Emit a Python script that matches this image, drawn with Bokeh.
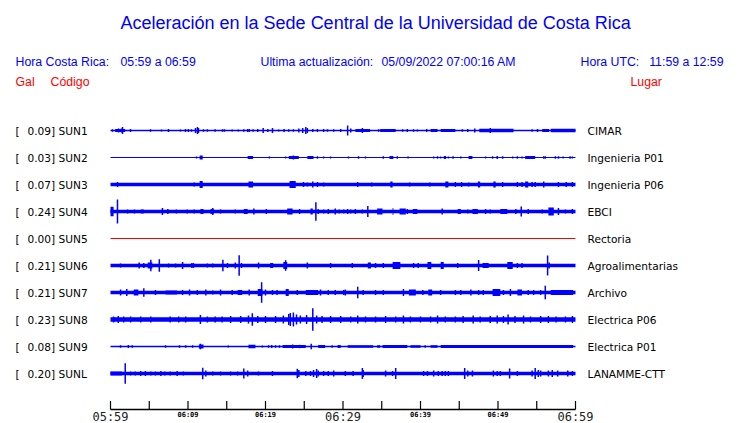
from bokeh.plotting import figure
from bokeh.models import Range1d
from bokeh.core.properties import value
from bokeh.embed import file_html
from bokeh.resources import INLINE

# ---------------- data ----------------
codes = ["SUN1", "SUN2", "SUN3", "SUN4", "SUN5", "SUN6", "SUN7", "SUN8", "SUN9", "SUNL"]
gal = ["0.09", "0.03", "0.07", "0.24", "0.00", "0.21", "0.21", "0.23", "0.08", "0.20"]
places = ["CIMAR", "Ingenieria P01", "Ingenieria P06", "EBCI", "Rectoria",
          "Agroalimentarias", "Archivo", "Electrica P06", "Electrica P01", "LANAMME-CTT"]

major_tick_minutes = [0, 30, 60]
major_tick_labels = ["05:59", "06:29", "06:59"]
minor_tick_minutes = [10, 20, 40, 50]
minor_tick_labels = ["06:09", "06:19", "06:39", "06:49"]
tick_minutes = [0, 5, 10, 15, 20, 25, 30, 35, 40, 45, 50, 55, 60]

# bands: (start minute, end minute, half amplitude) ; spikes: (minute, half amplitude)
SUN1_bands = [(0, 60, 0.8), (0.6, 1.9, 1.5), (31.6, 33.5, 1.5), (34.8, 36.8, 1.5), (41.3, 42.2, 1.5),
              (42.6, 44.5, 1.5), (47.6, 52.0, 1.8), (55.7, 56.6, 1.5), (56.8, 60, 1.8)]
SUN1_spikes = [(0.26, 1.3), (1.03, 2), (1.42, 2), (1.55, 3.5), (2.58, 1.5), (5.16, 1.3), (6.58, 1), (7.48, 1.5),
               (9.03, 1), (9.68, 1.5), (10.06, 1.5), (10.45, 1.3), (10.97, 2.5), (11.22, 3.5), (11.35, 2.5),
               (12.0, 1.3), (12.5, 1.3), (13.5, 1.3), (14.45, 1.3), (14.7, 1.3), (15.7, 1), (16.5, 1), (17.2, 1.3),
               (17.7, 1.5), (17.9, 1.5), (18.4, 1.3), (19.0, 1.5), (19.7, 2.5), (20.3, 1.5), (20.9, 2.5), (21.7, 1),
               (22.4, 1.5), (23.0, 1.3), (23.6, 1.3), (24.3, 2), (24.8, 2.5), (25.2, 3.5), (25.4, 2.5), (26.1, 1.5),
               (26.7, 1.5), (27.5, 1.5), (28.0, 1.3), (28.8, 1.3), (29.7, 1.5), (30.6, 5), (31.0, 2), (32.5, 2.5),
               (34.6, 1.3), (37.7, 1.3), (38.3, 1.5), (39.1, 1.3), (39.6, 1), (40.8, 1.5), (45.4, 1.3), (46.1, 1.5),
               (47.0, 2), (47.7, 1.3), (49.0, 2.5), (54.4, 1.3), (55.1, 1.5)]

SUN2_bands = [(0, 60, 0.5), (11.5, 11.9, 2), (17.7, 18.4, 1.5), (23.0, 24.3, 1.5), (25.4, 26.2, 1.5),
              (36.0, 36.5, 1.5), (43.0, 43.3, 1.5), (46.2, 46.7, 1.5), (53.5, 54.8, 1.5)]
SUN2_spikes = [(11.1, 1), (23.6, 2), (20.5, 1), (22.6, 1), (26.7, 1.3), (27.5, 1), (28.4, 1), (30.7, 1),
               (32.0, 1.3), (32.9, 1), (35.2, 1.3), (37.0, 1.3), (38.4, 1), (41.7, 1), (42.2, 1.3), (42.6, 1),
               (43.6, 1), (44.2, 1.3), (45.2, 1), (48.4, 1), (49.3, 1.3), (49.9, 1.5), (50.6, 1.3), (51.9, 1),
               (52.5, 1.3), (53.1, 1), (55.9, 1.3), (56.1, 1.3), (57.4, 1.3), (57.8, 1.3), (58.4, 1), (59.3, 1.3),
               (59.6, 1)]

SUN3_bands = [(0, 60, 1.7), (11.5, 11.9, 3.5), (17.8, 18.4, 3), (23.1, 23.9, 3.5), (36.1, 36.4, 3),
              (43.2, 43.6, 3), (47.4, 47.7, 3), (49.4, 49.7, 3), (53.5, 53.9, 3)]
SUN3_spikes = [(0.9, 2.5), (10.8, 2), (24.9, 2.5), (25.4, 2), (26.1, 3), (26.7, 2.5), (27.5, 2), (31.9, 2.5),
               (33.7, 2), (38.6, 2), (41.2, 2), (44.5, 2.5), (45.3, 2.5), (46.2, 2), (50.6, 2.5), (52.5, 2.5),
               (53.1, 2.5), (54.4, 2.5), (54.8, 2.5), (55.9, 3), (57.8, 2.5), (58.8, 2.5), (59.6, 2.5)]

SUN4_bands = [(0, 60, 1.7), (0, 0.4, 4.7), (3.9, 4.3, 2), (6.6, 6.8, 3.5), (11.6, 12.0, 2.5), (12.9, 13.3, 2.5),
              (17.2, 17.7, 2.5), (18.4, 18.6, 3), (22.8, 23.5, 3), (25.8, 26.1, 3), (34.4, 35.1, 3),
              (36.4, 36.5, 3.5), (37.3, 38.1, 3), (39.0, 39.6, 2.5), (44.8, 45.2, 2.5), (46.7, 47.4, 2.5),
              (50.3, 51.2, 2.5), (56.5, 57.2, 4)]
SUN4_spikes = [(0.9, 12), (2.2, 2), (3.1, 2), (7.4, 2.5), (8.5, 2), (9.9, 2), (10.8, 2), (13.2, 3.5), (14.2, 2),
               (16.1, 2), (20.1, 2.5), (24.4, 2.5), (26.5, 9.3), (26.8, 2.5), (27.5, 2), (28.1, 2.5), (29.0, 3),
               (29.5, 2), (30.1, 2), (30.6, 2.5), (31.0, 2), (31.6, 2.5), (32.5, 2), (33.2, 5.5), (38.3, 2.5),
               (42.8, 3), (46.1, 2), (48.4, 2.5), (49.0, 2), (52.3, 2.5), (53.0, 5), (53.9, 2.5), (55.7, 2),
               (57.8, 3.5), (58.7, 2), (59.6, 2.5)]

SUN5_bands = [(0, 60, 0.5)]
SUN5_spikes = []

SUN6_bands = [(0, 60, 1.7), (3.6, 3.8, 3), (4.8, 5.4, 3), (9.2, 9.4, 3.5), (20.6, 21.0, 2.5), (22.3, 22.8, 3.5),
              (33.2, 33.6, 3), (36.4, 37.4, 3.5), (40.9, 41.4, 3.5), (42.6, 43.0, 3.5), (48.0, 48.8, 2.5),
              (51.2, 51.9, 3.5)]
SUN6_spikes = [(1.3, 2), (4.3, 2.5), (5.2, 5.8), (6.3, 6.2), (7.5, 2), (8.4, 2), (10.5, 2.5), (10.7, 2.5),
               (12.5, 2), (13.2, 2), (14.5, 5.8), (15.1, 2.5), (16.1, 3), (16.6, 10.3), (16.9, 2.5), (19.1, 3),
               (22.6, 5.3), (25.4, 3), (28.4, 2.5), (31.2, 2.5), (34.2, 2.5), (35.2, 2.5), (39.1, 2.5), (39.7, 2.5),
               (44.8, 2.5), (47.5, 5.5), (52.5, 2.5), (53.1, 2.5), (56.4, 10), (56.6, 3)]

SUN7_bands = [(0, 60, 1.7), (3.0, 3.6, 3), (7.1, 8.6, 2), (10.1, 10.3, 3), (16.4, 17.0, 2.5), (19.0, 19.6, 3.5),
              (22.6, 23.0, 3.5), (25.2, 26.8, 2.5), (38.5, 39.4, 3), (41.0, 41.5, 3), (49.3, 50.3, 3.5),
              (52.5, 53.1, 3), (56.8, 59.7, 2.5)]
SUN7_spikes = [(1.3, 3), (2.1, 3.5), (4.3, 4.2), (5.8, 2.5), (9.3, 2.5), (11.2, 2.5), (12.3, 3), (13.2, 2),
               (14.2, 3), (15.7, 2.5), (17.9, 3), (19.5, 10.3), (20.0, 3), (20.9, 2.5), (21.5, 2.5), (24.1, 2.5),
               (27.1, 3), (28.1, 2.5), (29.0, 2.5), (30.1, 2.5), (30.3, 3), (31.9, 5.8), (32.6, 2.5), (34.2, 2.5),
               (35.2, 2.5), (37.8, 3.5), (40.3, 2.5), (42.6, 2.5), (44.5, 2.5), (45.2, 2.5), (46.5, 3), (47.5, 2.5),
               (48.1, 2.5), (50.7, 2.5), (51.6, 3.5), (53.9, 2.5), (54.6, 2.5), (55.5, 2.5), (56.1, 6.8)]

SUN8_bands = [(0, 60, 2.2)]
SUN8_spikes = [(0.4, 3), (1.0, 3.5), (1.7, 3), (2.6, 3), (3.9, 3), (5.2, 3), (7.7, 3), (8.8, 3), (9.7, 3),
               (11.6, 4.5), (12.5, 3), (13.5, 3), (14.4, 3), (15.5, 3.5), (16.8, 3.5), (17.8, 4), (18.3, 6.3),
               (19.0, 3.5), (20.0, 3.5), (21.3, 3.5), (22.3, 4), (23.0, 5.5), (23.2, 6.5), (23.6, 7), (24.0, 5),
               (24.5, 4), (25.3, 4.5), (26.1, 11.3), (26.6, 4), (27.3, 3.5), (28.4, 3.5), (29.7, 3.5), (31.0, 3),
               (31.9, 4), (32.9, 3), (34.2, 3), (35.5, 3.5), (36.8, 3), (37.8, 4), (38.7, 3), (40.0, 3), (41.3, 3),
               (42.2, 4), (43.2, 3), (44.5, 3), (45.5, 3.5), (46.8, 4), (47.7, 3), (49.0, 3.5), (49.9, 4),
               (50.7, 3.5), (51.3, 5), (52.2, 3.5), (53.3, 4), (54.2, 3), (55.5, 3.5), (56.5, 3.5), (57.5, 3),
               (58.7, 3), (59.6, 3.5)]

SUN9_bands = [(0, 60, 0.7), (11.4, 12.0, 2), (17.8, 18.7, 1.7), (22.2, 25.2, 1.5), (26.8, 27.7, 1.5),
              (29.3, 29.7, 1.5), (30.6, 33.9, 1.3), (34.4, 34.8, 1.3), (35.1, 38.3, 1.5), (38.7, 40.0, 1.3),
              (41.3, 42.2, 1.3), (42.6, 59.7, 1.5)]
SUN9_spikes = [(1.3, 1.3), (2.3, 1.5), (2.8, 1.3), (7.1, 1.3), (8.9, 1.3), (9.7, 1.3), (10.6, 1.3), (11.6, 2.7),
               (15.2, 1), (19.6, 1), (20.4, 1.3), (20.8, 1.5), (21.3, 1.3), (21.8, 1.3), (23.5, 2), (24.4, 1.7),
               (25.9, 2.7), (28.6, 1.3), (40.6, 1.3)]

SUNL_bands = [(0, 60, 1.7), (0, 1.5, 2)]
SUNL_spikes = [(1.9, 10.3), (2.6, 2), (3.2, 2), (3.9, 2.5), (4.5, 2.5), (5.2, 2), (5.8, 2), (6.5, 2.5), (7.0, 2),
               (7.7, 2), (8.6, 2.5), (9.4, 2), (11.9, 5.7), (12.3, 3), (13.2, 2), (14.2, 2), (15.5, 2), (16.4, 2),
               (17.2, 5), (17.7, 3), (19.1, 2), (20.9, 2.5), (24.1, 4.7), (24.3, 3.5), (25.2, 2.5), (25.8, 2.5),
               (26.2, 3.5), (26.6, 4.5), (26.8, 3), (27.5, 2.5), (28.1, 2.5), (28.8, 3), (30.3, 2.5), (31.3, 2.5),
               (32.5, 5.5), (32.6, 3.5), (35.5, 3), (36.4, 2.5), (36.8, 5.5), (40.4, 2.5), (40.9, 2.5), (41.7, 3),
               (42.3, 2.5), (42.8, 2.5), (43.2, 2.5), (43.6, 2.5), (45.7, 5.5), (46.1, 3), (46.7, 3), (49.4, 3),
               (49.9, 2.5), (50.3, 2.5), (51.5, 5), (52.5, 2.5), (54.4, 3), (54.8, 5.5), (55.2, 3.5), (55.5, 3),
               (56.5, 3), (57.0, 3.5), (57.7, 3), (59.0, 3), (59.6, 2.5)]

all_bands = [SUN1_bands, SUN2_bands, SUN3_bands, SUN4_bands, SUN5_bands,
             SUN6_bands, SUN7_bands, SUN8_bands, SUN9_bands, SUNL_bands]
all_spikes = [SUN1_spikes, SUN2_spikes, SUN3_spikes, SUN4_spikes, SUN5_spikes,
              SUN6_spikes, SUN7_spikes, SUN8_spikes, SUN9_spikes, SUNL_spikes]

# ---------------- layout helpers ----------------
W, H = 740, 423
X0, PXM = 110.0, 7.75     # px of minute 0, px per minute
Y0, PXR = 130.0, 27.0     # px of row 0, px per row
AMP = 1.0 / PXR           # amplitude display scale


def tx(px):
    return (px - X0) / PXM


def ry(py):
    return (py - Y0) / PXR


p = figure(width=W, height=H, output_backend="svg", toolbar_location=None,
           x_range=Range1d(tx(0), tx(W)), y_range=Range1d(ry(H), ry(0)),
           x_axis_type=None, y_axis_type=None, min_border=0,
           outline_line_color=None, background_fill_color="white",
           border_fill_color="white")
p.grid.visible = False

BLUE = "#0000ff"
RED = "#ff0000"

for i, (bands, spikes) in enumerate(zip(all_bands, all_spikes)):
    col = RED if gal[i] == "0.00" else BLUE
    p.quad(left=[b[0] for b in bands], right=[b[1] for b in bands],
           top=[i - b[2] * AMP for b in bands], bottom=[i + b[2] * AMP for b in bands],
           fill_color=col, line_color=None)
    if spikes:
        p.segment(x0=[s[0] for s in spikes], x1=[s[0] for s in spikes],
                  y0=[i - s[1] * AMP for s in spikes], y1=[i + s[1] * AMP for s in spikes],
                  line_color=col, line_width=1.5)

rows = list(range(len(codes)))
LBL_SIZE = "10.6px"
# left labels
p.text(x=[tx(15)] * len(rows), y=rows, text=["["] * len(rows),
       text_font=value("DejaVu Sans"), text_font_size=LBL_SIZE, text_color="black",
       text_align="left", text_baseline="middle")
p.text(x=[tx(27)] * len(rows), y=rows, text=[f"{g}] {c}" for g, c in zip(gal, codes)],
       text_font=value("DejaVu Sans"), text_font_size=LBL_SIZE, text_color="black",
       text_align="left", text_baseline="middle")
# right labels
p.text(x=[tx(587)] * len(rows), y=rows, text=places,
       text_font=value("DejaVu Sans"), text_font_size=LBL_SIZE, text_color="black",
       text_align="left", text_baseline="middle")

# time axis
axis_y = ry(409)
p.segment(x0=[0], x1=[60], y0=[axis_y], y1=[axis_y], line_color="black", line_width=1.5)
p.segment(x0=tick_minutes, x1=tick_minutes, y0=[axis_y] * len(tick_minutes),
          y1=[ry(400.5)] * len(tick_minutes), line_color="black", line_width=1.2)
p.text(x=major_tick_minutes, y=[ry(416)] * 3, text=major_tick_labels,
       text_font=value("DejaVu Sans Mono"), text_font_size="12px", text_color="#222222",
       text_align="center", text_baseline="middle")
p.text(x=minor_tick_minutes, y=[ry(414.5)] * 4, text=minor_tick_labels,
       text_font=value("DejaVu Sans Mono"), text_font_size="7px", text_font_style="bold",
       text_color="black", text_align="center", text_baseline="middle")

# header texts
def hdr(px, py, s, size="12.3px", color=BLUE, align="left"):
    p.text(x=[tx(px)], y=[ry(py)], text=[s], text_font=value("Liberation Sans"),
           text_font_size=size, text_color=color, text_align=align, text_baseline="middle")

hdr(120, 22, "Aceleración en la Sede Central de la Universidad de Costa Rica", size="18px", align="left")
hdr(15, 61, "Hora Costa Rica:")
hdr(120, 61, "05:59 a 06:59")
hdr(260, 61, "Ultima actualización:")
hdr(381, 61, "05/09/2022 07:00:16 AM")
hdr(580, 61, "Hora UTC:")
hdr(723, 61, "11:59 a 12:59", align="right")
hdr(15, 81, "Gal", color=RED)
hdr(50, 81, "Código", color=RED)
hdr(630, 81, "Lugar", color=RED)

open("out.html", "w").write(file_html(p, INLINE))
